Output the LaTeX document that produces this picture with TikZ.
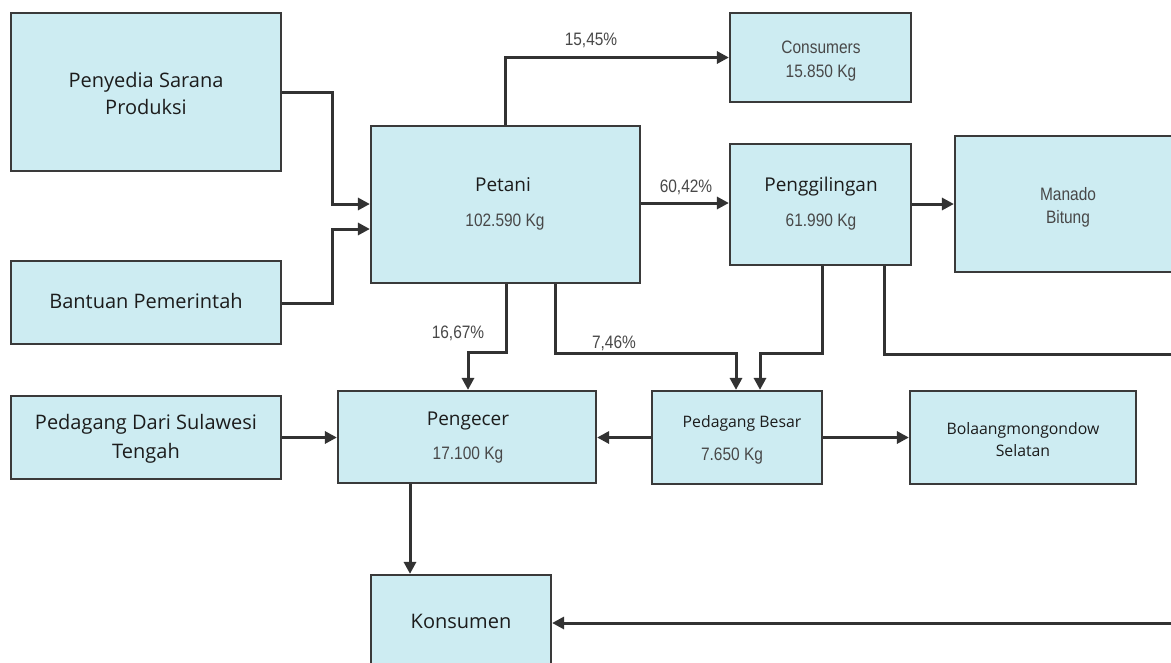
\documentclass[tikz,border=0pt]{standalone}
\usepackage{fontspec}
\usetikzlibrary{arrows.meta}
\newfontfamily\osf{Open Sans}
\newfontfamily\arf[FakeStretch=0.86]{Liberation Sans}
\definecolor{boxfill}{RGB}{205,236,242}
\definecolor{boxline}{RGB}{58,58,58}
\definecolor{connline}{RGB}{50,50,50}
\definecolor{txtdark}{RGB}{28,28,28}
\definecolor{txtgray}{RGB}{72,72,72}
\tikzset{
  box/.style={draw=boxline, fill=boxfill, line width=2.2pt, inner sep=0pt},
  conn/.style={draw=connline, line width=3pt, -{Triangle[length=12pt,width=12pt]}},
  ostext/.style={font=\osf\fontsize{19}{23}\selectfont, text=txtdark, inner sep=0pt, anchor=base},
  osbig/.style={font=\osf\fontsize{20}{24}\selectfont, text=txtdark, inner sep=0pt, anchor=base},
  ossmall/.style={font=\osf\fontsize{15.8}{19}\selectfont, text=txtdark, inner sep=0pt, anchor=base},
  artext/.style={font=\arf\fontsize{18}{21}\selectfont, text=txtgray, inner sep=0pt, anchor=base}
}
\begin{document}
\begin{tikzpicture}[x=1pt,y=-1pt]
\useasboundingbox (0,0) rectangle (1171,662);
\clip (0,0) rectangle (1171,662);
\fill[white] (0,0) rectangle (1171,662);

% boxes
\node[box, minimum width=270pt, minimum height=158pt] (pen) at (146,92) {};
\node[box, minimum width=270pt, minimum height=83pt] (ban) at (146,302.5) {};
\node[box, minimum width=269pt, minimum height=157pt] (pet) at (505.5,204.5) {};
\node[box, minimum width=181pt, minimum height=89pt] (cons) at (820.5,57.5) {};
\node[box, minimum width=181pt, minimum height=121pt] (peng) at (820.5,204.5) {};
\node[box, minimum width=245pt, minimum height=136pt] (man) at (1077.5,204) {};
\node[box, minimum width=270pt, minimum height=83pt] (pds) at (146,437.5) {};
\node[box, minimum width=258pt, minimum height=92pt] (pgc) at (467,437) {};
\node[box, minimum width=170pt, minimum height=93pt] (pb) at (737,437.5) {};
\node[box, minimum width=226pt, minimum height=93pt] (bol) at (1023,437.5) {};
\node[box, minimum width=180pt, minimum height=105pt] (kon) at (461,627.5) {};

% texts
\node[osbig] (tpen1) at (146,87) {Penyedia Sarana};
\node[osbig] (tpen2) at (146,114) {Produksi};
\node[osbig] (tban) at (146,308) {Bantuan Pemerintah};
\node[osbig] (tpds1) at (146,429) {Pedagang Dari Sulawesi};
\node[osbig] (tpds2) at (146,458) {Tengah};
\node[ostext] (tpet1) at (503,191) {Petani};
\node[artext] (tpet2) at (505,226) {102.590 Kg};
\node[ostext] (tpeng1) at (821,191) {Penggilingan};
\node[artext] (tpeng2) at (821,226) {61.990 Kg};
\node[artext] (tcons1) at (821,53) {Consumers};
\node[artext] (tcons2) at (821,77) {15.850 Kg};
\node[artext] (tman1) at (1068,200) {Manado};
\node[artext] (tman2) at (1068,223) {Bitung};
\node[ostext] (tpgc1) at (468,425) {Pengecer};
\node[artext] (tpgc2) at (468,459) {17.100 Kg};
\node[ossmall] (tpb1) at (742,427) {Pedagang Besar};
\node[artext] (tpb2) at (732,460) {7.650 Kg};
\node[ossmall] (tbol1) at (1023,434) {Bolaangmongondow};
\node[ossmall] (tbol2) at (1023,456) {Selatan};
\node[osbig] (tkon) at (461,628) {Konsumen};

% percentages
\node[artext] (p1) at (591,45) {15,45\%};
\node[artext] (p2) at (686,192) {60,42\%};
\node[artext] (p3) at (458,338) {16,67\%};
\node[artext] (p4) at (614,348) {7,46\%};

% connectors
\draw[conn] (pen.east) -- (332,92) |- (pet.west |- 0,204);
\draw[conn] (ban.east |- 0,303) -- (332,303) |- (pet.west |- 0,229);
\draw[conn] (pet.north -| 505,0) |- (cons.west);
\draw[conn] (pet.east |- 0,203) -- (peng.west |- 0,203);
\draw[conn] (peng.east |- 0,204) -- (man.west |- 0,204);
\draw[conn] (pet.south -| 506,0) -- (506,352) -| (pgc.north -| 468,0);
\draw[conn] (pet.south -| 555,0) -- (555,353) -| (pb.north -| 736,0);
\draw[conn] (peng.south -| 822,0) -- (822,353) -| (pb.north -| 760,0);
\draw[conn] (peng.south -| 884,0) -- (884,354) -- (1190,354) |- (kon.east |- 0,623);
\draw[conn] (pds.east) -- (pgc.west |- pds.east);
\draw[conn] (pb.west) -- (pgc.east |- pb.west);
\draw[conn] (pb.east) -- (bol.west);
\draw[conn] (pgc.south -| 410,0) -- (kon.north -| 410,0);
\end{tikzpicture}
\end{document}
